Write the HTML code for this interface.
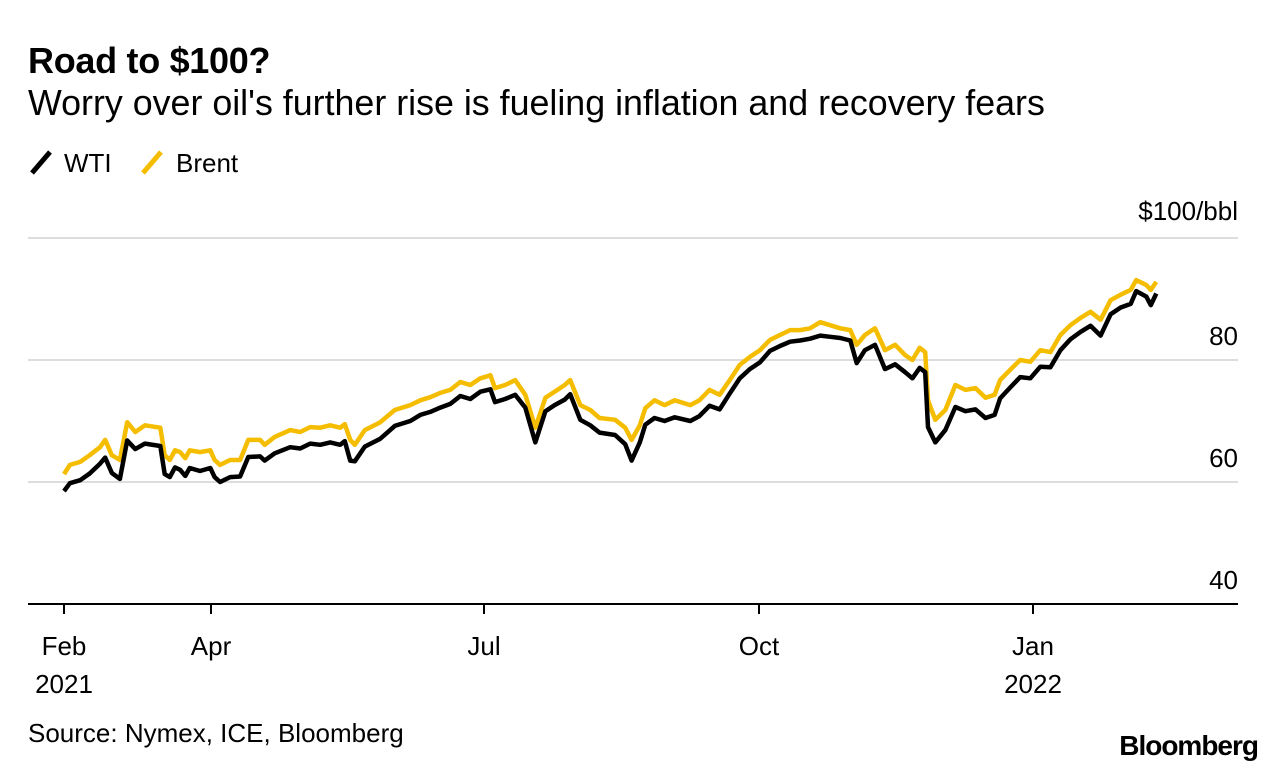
<!DOCTYPE html>
<html><head><meta charset="utf-8"><style>
body{margin:0;background:#fff;width:1286px;height:772px;overflow:hidden;font-family:"Liberation Sans",sans-serif;color:#000}
.t{position:absolute;white-space:nowrap}
</style></head><body>
<div class="t" style="left:28px;top:40px;font-size:36px;font-weight:bold;letter-spacing:-0.3px">Road to $100?</div>
<div class="t" style="left:28px;top:83px;font-size:35.8px">Worry over oil's further rise is fueling inflation and recovery fears</div>
<svg width="1286" height="772" style="position:absolute;left:0;top:0" id="chart">
<g>
<line x1="32" y1="173" x2="50" y2="152" stroke="#000" stroke-width="5"/>
<text x="64" y="172" font-size="26">WTI</text>
<line x1="143" y1="173" x2="161" y2="152" stroke="#f5bd00" stroke-width="5"/>
<text x="176" y="172" font-size="26">Brent</text>
</g>
<text x="1238" y="220" font-size="26" text-anchor="end">$100/bbl</text>
<g id="grid"></g><g id="xax"></g><g id="lines"></g>
<text x="28" y="742" font-size="26">Source: Nymex, ICE, Bloomberg</text>
<text x="1258" y="755" font-size="28" font-weight="bold" text-anchor="end" letter-spacing="-1">Bloomberg</text>
</svg>
<script>
const yTicks=[40,60,80,100];
const xTickT=[0,2,5,8,11];
const xTickLabels=[["Feb","2021"],["Apr",""],["Jul",""],["Oct",""],["Jan","2022"]];
const times=[0,.08,.22,.35,.49,.56,.65,.76,.86,.97,1.10,1.31,1.37,1.44,1.51,1.58,1.65,1.71,1.85,1.99,2.04,2.10,2.21,2.32,2.41,2.54,2.59,2.70,2.87,2.98,3.09,3.20,3.31,3.42,3.47,3.53,3.58,3.69,3.86,4.02,4.19,4.30,4.41,4.52,4.63,4.74,4.85,4.96,5.07,5.12,5.23,5.34,5.45,5.56,5.67,5.77,5.88,5.94,6.05,6.16,6.26,6.43,6.54,6.61,6.70,6.76,6.86,6.97,7.08,7.25,7.35,7.46,7.57,7.68,7.79,7.90,8.01,8.12,8.23,8.34,8.45,8.56,8.67,8.78,8.89,9.00,9.07,9.16,9.27,9.38,9.49,9.60,9.68,9.76,9.82,9.85,9.93,10.04,10.15,10.26,10.37,10.48,10.58,10.64,10.75,10.86,10.97,11.08,11.19,11.30,11.41,11.52,11.63,11.74,11.85,11.96,12.07,12.13,12.24,12.29,12.35];
const brent=[61.3,62.8,63.3,64.4,65.7,66.9,64.4,63.6,69.8,68.2,69.3,68.9,64.4,63.6,65.2,64.9,63.9,65.2,64.9,65.2,63.6,62.8,63.6,63.6,66.9,66.9,66.1,67.4,68.5,68.2,69.0,68.9,69.3,68.9,69.5,66.9,66.1,68.5,69.8,71.8,72.6,73.4,73.9,74.6,75.1,76.4,75.9,77.0,77.5,75.4,75.9,76.7,74.3,68.9,73.8,74.8,75.9,76.7,72.6,71.8,70.5,70.2,68.9,66.9,69.3,72.1,73.4,72.6,73.4,72.6,73.4,75.1,74.3,76.7,79.2,80.5,81.6,83.3,84.1,84.9,84.9,85.2,86.2,85.7,85.2,84.9,82.5,84.1,85.2,81.6,82.5,80.8,80.0,82.0,81.3,73.4,70.2,71.8,75.9,75.1,75.4,73.8,74.3,76.7,78.4,80.0,79.7,81.6,81.3,84.1,85.7,86.9,87.9,86.6,89.8,90.7,91.5,93.1,92.3,91.5,92.8];
const wti=[58.5,59.8,60.3,61.4,63.0,64.0,61.5,60.5,66.8,65.4,66.3,65.9,61.3,60.8,62.4,62.0,61.0,62.3,61.8,62.3,60.8,60.0,60.8,60.9,64.1,64.2,63.5,64.7,65.7,65.5,66.3,66.1,66.5,66.1,66.7,63.5,63.4,65.8,67.1,69.2,70.0,71.0,71.5,72.2,72.8,74.1,73.6,74.8,75.2,73.1,73.6,74.3,72.2,66.5,71.6,72.6,73.5,74.4,70.2,69.3,68.1,67.7,66.2,63.5,66.5,69.4,70.5,70.0,70.6,70.0,70.8,72.5,71.9,74.5,77.0,78.5,79.6,81.5,82.3,83.0,83.2,83.5,84.0,83.8,83.6,83.2,79.5,81.6,82.5,78.5,79.3,78.0,77.0,78.7,78.0,69.0,66.5,68.5,72.3,71.6,71.9,70.5,71.0,73.7,75.5,77.2,77.0,78.9,78.8,81.6,83.4,84.6,85.6,84.0,87.5,88.6,89.2,91.3,90.4,89.0,90.9];
const NS="http://www.w3.org/2000/svg";
const xPx=[64,211,484,759,1033];
function xs(t){let i=0;while(i<xTickT.length-2&&t>xTickT[i+1])i++;return xPx[i]+(t-xTickT[i])*(xPx[i+1]-xPx[i])/(xTickT[i+1]-xTickT[i]);}
function ys(v){return 604-(v-40)*6.1;}
function mk(tag,attrs,parent){const e=document.createElementNS(NS,tag);for(const k in attrs)e.setAttribute(k,attrs[k]);parent.appendChild(e);return e;}
const grid=document.getElementById('grid');
yTicks.forEach(v=>{
 const l=mk('line',{x1:28,x2:1238,y1:ys(v),y2:ys(v),stroke:v===40?'#000':'#ddd','stroke-width':2},grid);
 
 
 if(v!==100){const t=mk('text',{x:1238,y:ys(v)-15,'font-size':26,'text-anchor':'end'},grid);t.textContent=v;
 
 }
});
const xax=document.getElementById('xax');
xTickT.forEach((t,i)=>{
 const x=xs(t);
 const tk=mk('line',{x1:x,x2:x,y1:604,y2:614,stroke:'#000','stroke-width':2},xax);
 
 
 const a=mk('text',{x:x,y:655,'font-size':26,'text-anchor':'middle'},xax);a.textContent=xTickLabels[i][0];
 
 
 if(xTickLabels[i][1]){const b=mk('text',{x:x,y:693,'font-size':26,'text-anchor':'middle'},xax);b.textContent=xTickLabels[i][1];
 
 }
});
const lines=document.getElementById('lines');
function path(vals,color,name){const n=Math.min(vals.length,times.length);let d='';for(let i=0;i<n;i++)d+=(i?'L':'M')+xs(times[i]).toFixed(1)+','+ys(vals[i]).toFixed(1);
 const p=mk('path',{d:d,fill:'none',stroke:color,'stroke-width':4.5,'stroke-linejoin':'round'},lines);
 
 }
path(brent,'#f5bd00','brent-line');
path(wti,'#000','wti-line');
</script>
</body></html>
